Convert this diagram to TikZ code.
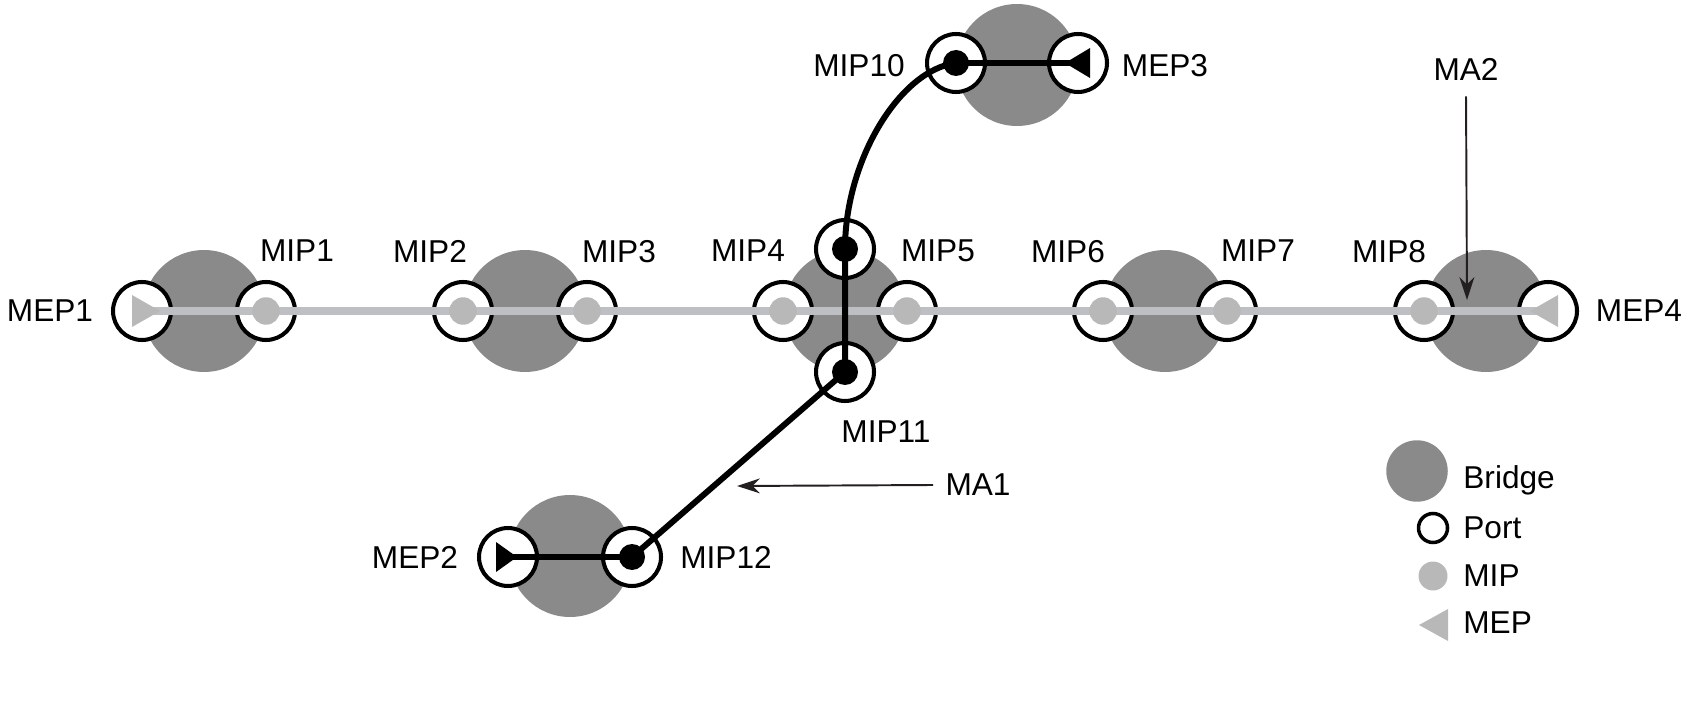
\documentclass[tikz,border=0pt]{standalone}
\usepackage{fontspec}
\setmainfont{Liberation Sans}
\usetikzlibrary{arrows.meta}
\definecolor{bridgegray}{RGB}{137,138,137}
\definecolor{linegray}{RGB}{190,191,195}
\definecolor{mipgray}{RGB}{183,184,183}
\definecolor{arrowgray}{RGB}{35,31,32}
\tikzset{
  bridge/.style={circle, fill=bridgegray, inner sep=0pt, minimum size=2.44cm},
  port/.style={circle, draw=black, fill=white, line width=2.3pt, inner sep=0pt, minimum size=1.16cm},
  mipdot/.style={circle, fill=mipgray, inner sep=0pt, minimum size=0.55cm},
  blackdot/.style={circle, fill=black, inner sep=0pt, minimum size=0.52cm},
  lbl/.style={font=\fontsize{18}{21.6}\selectfont, inner sep=0pt, text depth=0pt},
  maline/.style={draw=arrowgray, line width=1.1pt, -{Stealth[length=0.46cm, width=0.3cm, inset=0.15cm]}},
}

\begin{document}
\begin{tikzpicture}[x=0.02cm, y=-0.02cm]
\useasboundingbox (0, 0) rectangle (1689, 719);
%Bridges
\node[bridge] (b1) at (204, 311) {};
\node[bridge] (b2) at (525, 311) {};
\node[bridge] (b3) at (845, 311) {};
\node[bridge] (b4) at (1165, 311) {};
\node[bridge] (b5) at (1486, 311) {};
\node[bridge] (bt) at (1017, 65) {};
\node[bridge] (bb) at (570, 556) {};
%Ports
\node[port] (mep1) at (142, 311) {};
\node[port] (mip1) at (266, 311) {};
\node[port] (mip2) at (463, 311) {};
\node[port] (mip3) at (587, 311) {};
\node[port] (mip4) at (783, 311) {};
\node[port] (mip5) at (907, 311) {};
\node[port] (mip6) at (1103, 311) {};
\node[port] (mip7) at (1227, 311) {};
\node[port] (mip8) at (1424, 311) {};
\node[port] (mep4) at (1548, 311) {};
\node[port] (mip9) at (845, 249) {};
\node[port] (mip11) at (845, 372) {};
\node[port] (mip10) at (956, 63) {};
\node[port] (mep3) at (1078, 63) {};
\node[port] (mep2) at (508, 557) {};
\node[port] (mip12) at (632, 557) {};
%MA2
\draw[linegray, line width=4.5pt] (mep1.center) -- (mep4.center);
\foreach \p in {mip1, mip2, mip3, mip4, mip5, mip6, mip7, mip8}
  \node[mipdot] (dot-\p) at (\p) {};
\fill[mipgray, shift={(mep1.center)}] (-10, -16) -- (18, 0) -- (-10, 16) -- cycle;
\fill[mipgray, shift={(mep4.center)}] (10, -16) -- (-18, 0) -- (10, 16) -- cycle;
%MA1
\draw[black, line width=3.4pt, line join=round] (mep3.center) -- (mip10.center)
  .. controls (900, 70) and (845, 160) .. (mip9.center) -- (mip11.center) -- (mip12.center) -- (mep2.center);
\foreach \p in {mip9, mip10, mip11, mip12}
  \node[blackdot] (dot-\p) at (\p) {};
\fill[black, shift={(mep3.center)}] (12, -15) -- (-13, 0) -- (12, 15) -- cycle;
\fill[black, shift={(mep2.center)}] (-12, -15) -- (9, 0) -- (-12, 15) -- cycle;
%Labels
\node[lbl] (tmep1) at (50, 311) {MEP1};
\node[lbl] (tmip1) at (297, 251) {MIP1};
\node[lbl] (tmip2) at (430, 251) {MIP2};
\node[lbl] (tmip3) at (619, 251) {MIP3};
\node[lbl] (tmip4) at (748, 251) {MIP4};
\node[lbl] (tmip5) at (938, 251) {MIP5};
\node[lbl] (tmip6) at (1068, 251) {MIP6};
\node[lbl] (tmip7) at (1258, 251) {MIP7};
\node[lbl] (tmip8) at (1389, 251) {MIP8};
\node[lbl] (tmep4) at (1639, 311) {MEP4};
\node[lbl] (tmip10) at (859, 65) {MIP10};
\node[lbl] (tmep3) at (1165, 65) {MEP3};
\node[lbl] (tmip11) at (886, 432) {MIP11};
\node[lbl] (tmep2) at (415, 557) {MEP2};
\node[lbl] (tmip12) at (726, 557) {MIP12};
\node[lbl] (tma1) at (978, 485) {MA1};
\node[lbl] (tma2) at (1466, 69) {MA2};
\coordinate (ma1end) at (737, 486);
\coordinate (ma2end) at (1467, 300);
\draw[maline] (tma1.west) ++(-12, 0) -- (ma1end);
\draw[maline] (tma2.south) ++(0, 16) -- (ma2end);
%Legend
\node[bridge, minimum size=1.23cm] (kbridge) at (1417, 471) {};
\node[port, minimum size=0.58cm, line width=2pt] (kport) at (1433, 528) {};
\node[mipdot, minimum size=0.58cm] (kmip) at (1433, 576) {};
\coordinate (kmep) at (1433, 625);
\fill[mipgray, shift={(kmep)}] (15, -16) -- (-14, 0) -- (15, 16) -- cycle;
\node[lbl, anchor=west] (tbridge) at (1463, 477) {Bridge};
\node[lbl, anchor=west] (tport) at (1463, 528) {Port};
\node[lbl, anchor=west] (tmip) at (1463, 576) {MIP};
\node[lbl, anchor=west] (tmep) at (1463, 623) {MEP};
\end{tikzpicture}
\end{document}
